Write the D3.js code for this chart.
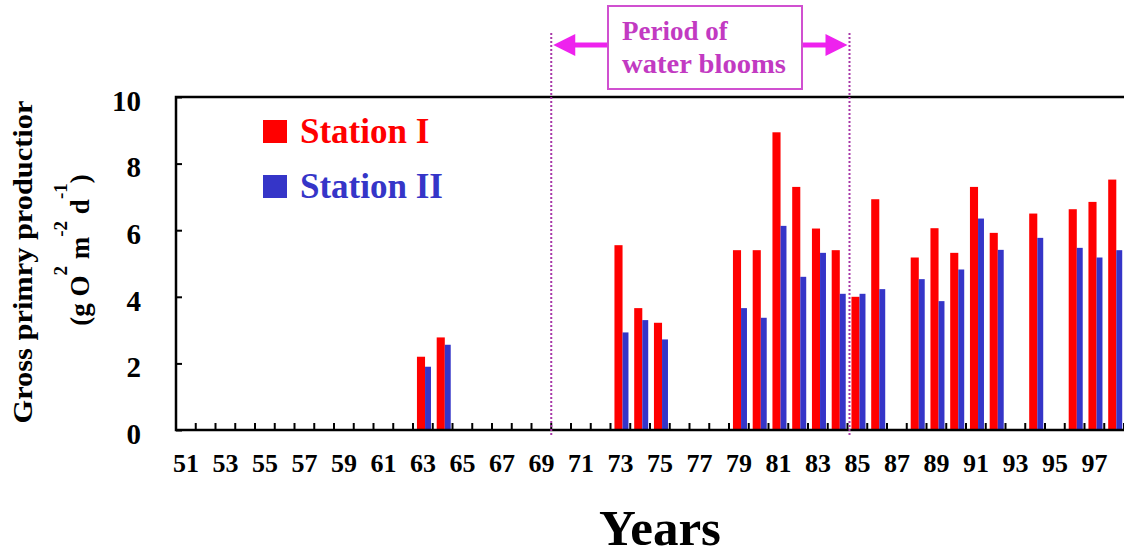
<!DOCTYPE html>
<html>
<head>
<meta charset="utf-8">
<script src="https://cdn.jsdelivr.net/npm/d3@7"></script>
<style>
  body { margin: 0; background: #fff; }
  svg { display: block; font-family: "Liberation Serif", "Times New Roman", serif; font-weight: bold; }
</style>
</head>
<body>
<svg id="chart" width="1124" height="557"></svg>
<script>
// categories (one band per year, 1951-1998)
const years = [51,52,53,54,55,56,57,58,59,60,61,62,63,64,65,66,67,68,69,70,
               71,72,73,74,75,76,77,78,79,80,81,82,83,84,85,86,87,88,89,90,
               91,92,93,94,95,96,97,98];
const tickYears = [51,53,55,57,59,61,63,65,67,69,71,73,75,77,79,81,83,85,87,89,91,93,95,97];
const yTicks = [0, 2, 4, 6, 8, 10];

// measured years and values (g O2 m-2 d-1)
const dataYears = [63,64,73,74,75,79,80,81,82,83,84,85,86,88,89,90,91,92,94,96,97,98];
const station1 = [2.2,2.78,5.55,3.66,3.22,5.4,5.4,8.94,7.3,6.05,5.4,4.0,6.93,5.18,6.06,5.32,7.3,5.92,6.5,6.63,6.85,7.52];
const station2 = [1.9,2.56,2.93,3.3,2.72,3.66,3.37,6.13,4.6,5.32,4.09,4.09,4.23,4.53,3.87,4.82,6.35,5.41,5.77,5.47,5.18,5.4];

const bloomStart = 70, bloomEnd = 85;

const chart = {
    left: 176, right: 1124, top: 97, bottom: 430,
    red: "#ff0000",
    blue: "#3535c8",
    magenta: "#ee22ee",
    purple: "#c23ac2",
    init: function(){
        const svg = d3.select("#chart");
        const xScale = d3.scaleBand().domain(years).range([chart.left, chart.right]).padding(0);
        const yScale = d3.scaleLinear().domain([0, 10]).range([chart.bottom, chart.top]);
        const bw = xScale.bandwidth();

        // bars
        const rows = dataYears.map((y, i) => ({year: y, s1: station1[i], s2: station2[i]}));
        const g = svg.append("g");
        g.selectAll(".s1").data(rows).enter().append("rect")
            .attr("x", d => xScale(d.year) + bw * 0.2)
            .attr("width", bw * 0.41)
            .attr("y", d => yScale(d.s1))
            .attr("height", d => chart.bottom - yScale(d.s1))
            .attr("fill", chart.red);
        g.selectAll(".s2").data(rows).enter().append("rect")
            .attr("x", d => xScale(d.year) + bw * 0.61)
            .attr("width", bw * 0.3)
            .attr("y", d => yScale(d.s2))
            .attr("height", d => chart.bottom - yScale(d.s2))
            .attr("fill", chart.blue);

        // frame
        svg.append("path")
            .attr("d", "M" + (chart.right + 5) + "," + chart.top + "H" + chart.left + "V" + chart.bottom + "H" + (chart.right + 5))
            .attr("fill", "none").attr("stroke", "#000").attr("stroke-width", 2.5);

        // x ticks at band boundaries, pointing inward
        const bounds = years.map(y => xScale(y)).concat([chart.right]);
        svg.append("g").selectAll("line").data(bounds).enter().append("line")
            .attr("x1", d => d).attr("x2", d => d)
            .attr("y1", chart.bottom).attr("y2", chart.bottom - 7)
            .attr("stroke", "#000").attr("stroke-width", 2);

        // x labels
        const xAxis = d3.axisBottom(xScale).tickValues(tickYears).tickSize(0).tickPadding(24);
        const xg = svg.append("g").attr("transform", "translate(0," + chart.bottom + ")").call(xAxis);
        xg.select(".domain").remove();
        xg.selectAll("text").attr("font-size", 26).attr("font-family", "Liberation Serif").attr("font-weight", "bold").attr("fill", "#000");

        // y axis
        const yAxis = d3.axisLeft(yScale).tickValues(yTicks).tickSize(-6).tickPadding(35);
        const yg = svg.append("g").attr("transform", "translate(" + chart.left + ",0)").call(yAxis);
        yg.select(".domain").remove();
        yg.selectAll("line").attr("stroke-width", 2);
        yg.selectAll("text").attr("font-size", 29).attr("font-family", "Liberation Serif").attr("font-weight", "bold")
            .attr("y", 4).attr("fill", "#000");

        // bloom period lines
        const xs = xScale(bloomStart), xe = xScale(bloomEnd) + 2;
        [xs, xe].forEach(x => {
            svg.append("line")
                .attr("x1", x).attr("x2", x).attr("y1", 33).attr("y2", chart.bottom + 5)
                .attr("stroke", "#a838a8").attr("stroke-width", 2).attr("stroke-dasharray", "2,2");
        });

        // arrows
        const ay = 45;
        svg.append("line").attr("x1", xs + 20).attr("x2", 608).attr("y1", ay).attr("y2", ay)
            .attr("stroke", chart.magenta).attr("stroke-width", 5);
        svg.append("path").attr("d", "M" + (xs + 2) + "," + ay + "L" + (xs + 24) + "," + (ay - 11) + "L" + (xs + 24) + "," + (ay + 11) + "Z")
            .attr("fill", chart.magenta);
        svg.append("line").attr("x1", 802).attr("x2", xe - 20).attr("y1", ay).attr("y2", ay)
            .attr("stroke", chart.magenta).attr("stroke-width", 5);
        svg.append("path").attr("d", "M" + (xe - 2) + "," + ay + "L" + (xe - 24) + "," + (ay - 11) + "L" + (xe - 24) + "," + (ay + 11) + "Z")
            .attr("fill", chart.magenta);

        // annotation box
        svg.append("rect").attr("x", 608).attr("y", 6).attr("width", 194).attr("height", 83)
            .attr("fill", "#fff").attr("stroke", "#d050d0").attr("stroke-width", 2);
        svg.append("text").attr("x", 622).attr("y", 40).attr("font-size", 27).attr("fill", chart.purple).text("Period of");
        svg.append("text").attr("x", 622).attr("y", 73).attr("font-size", 27).attr("fill", chart.purple)
            .attr("textLength", 164).attr("lengthAdjust", "spacingAndGlyphs").text("water blooms");

        // legend
        const legend = [["Station I", chart.red, 120], ["Station II", chart.blue, 175]];
        legend.forEach(l => {
            svg.append("rect").attr("x", 263).attr("y", l[2]).attr("width", 24).attr("height", 23).attr("fill", l[1]);
            svg.append("text").attr("x", 300).attr("y", l[2] + 23).attr("font-size", 35).attr("fill", l[1]).text(l[0]);
        });

        // y title
        svg.append("text")
            .attr("transform", "translate(32,262) rotate(-90)")
            .attr("text-anchor", "middle").attr("font-size", 27)
            .attr("textLength", 323).attr("lengthAdjust", "spacingAndGlyphs")
            .text("Gross primry productior");
        const unit = svg.append("text")
            .attr("transform", "translate(89,250) rotate(-90)")
            .attr("text-anchor", "middle").attr("font-size", 27);
        unit.append("tspan").text("(g O");
        unit.append("tspan").attr("dy", -22).attr("font-size", 19).text("2");
        unit.append("tspan").attr("dy", 22).text(" m");
        unit.append("tspan").attr("dy", -22).attr("font-size", 19).text("-2");
        unit.append("tspan").attr("dy", 22).text(" d");
        unit.append("tspan").attr("dy", -22).attr("font-size", 19).text("-1");
        unit.append("tspan").attr("dy", 22).text(")");

        // x title
        svg.append("text").attr("x", 660).attr("y", 545).attr("text-anchor", "middle")
            .attr("font-size", 50).attr("textLength", 122).attr("lengthAdjust", "spacingAndGlyphs")
            .text("Years");
    }
};
chart.init();
</script>
</body>
</html>
